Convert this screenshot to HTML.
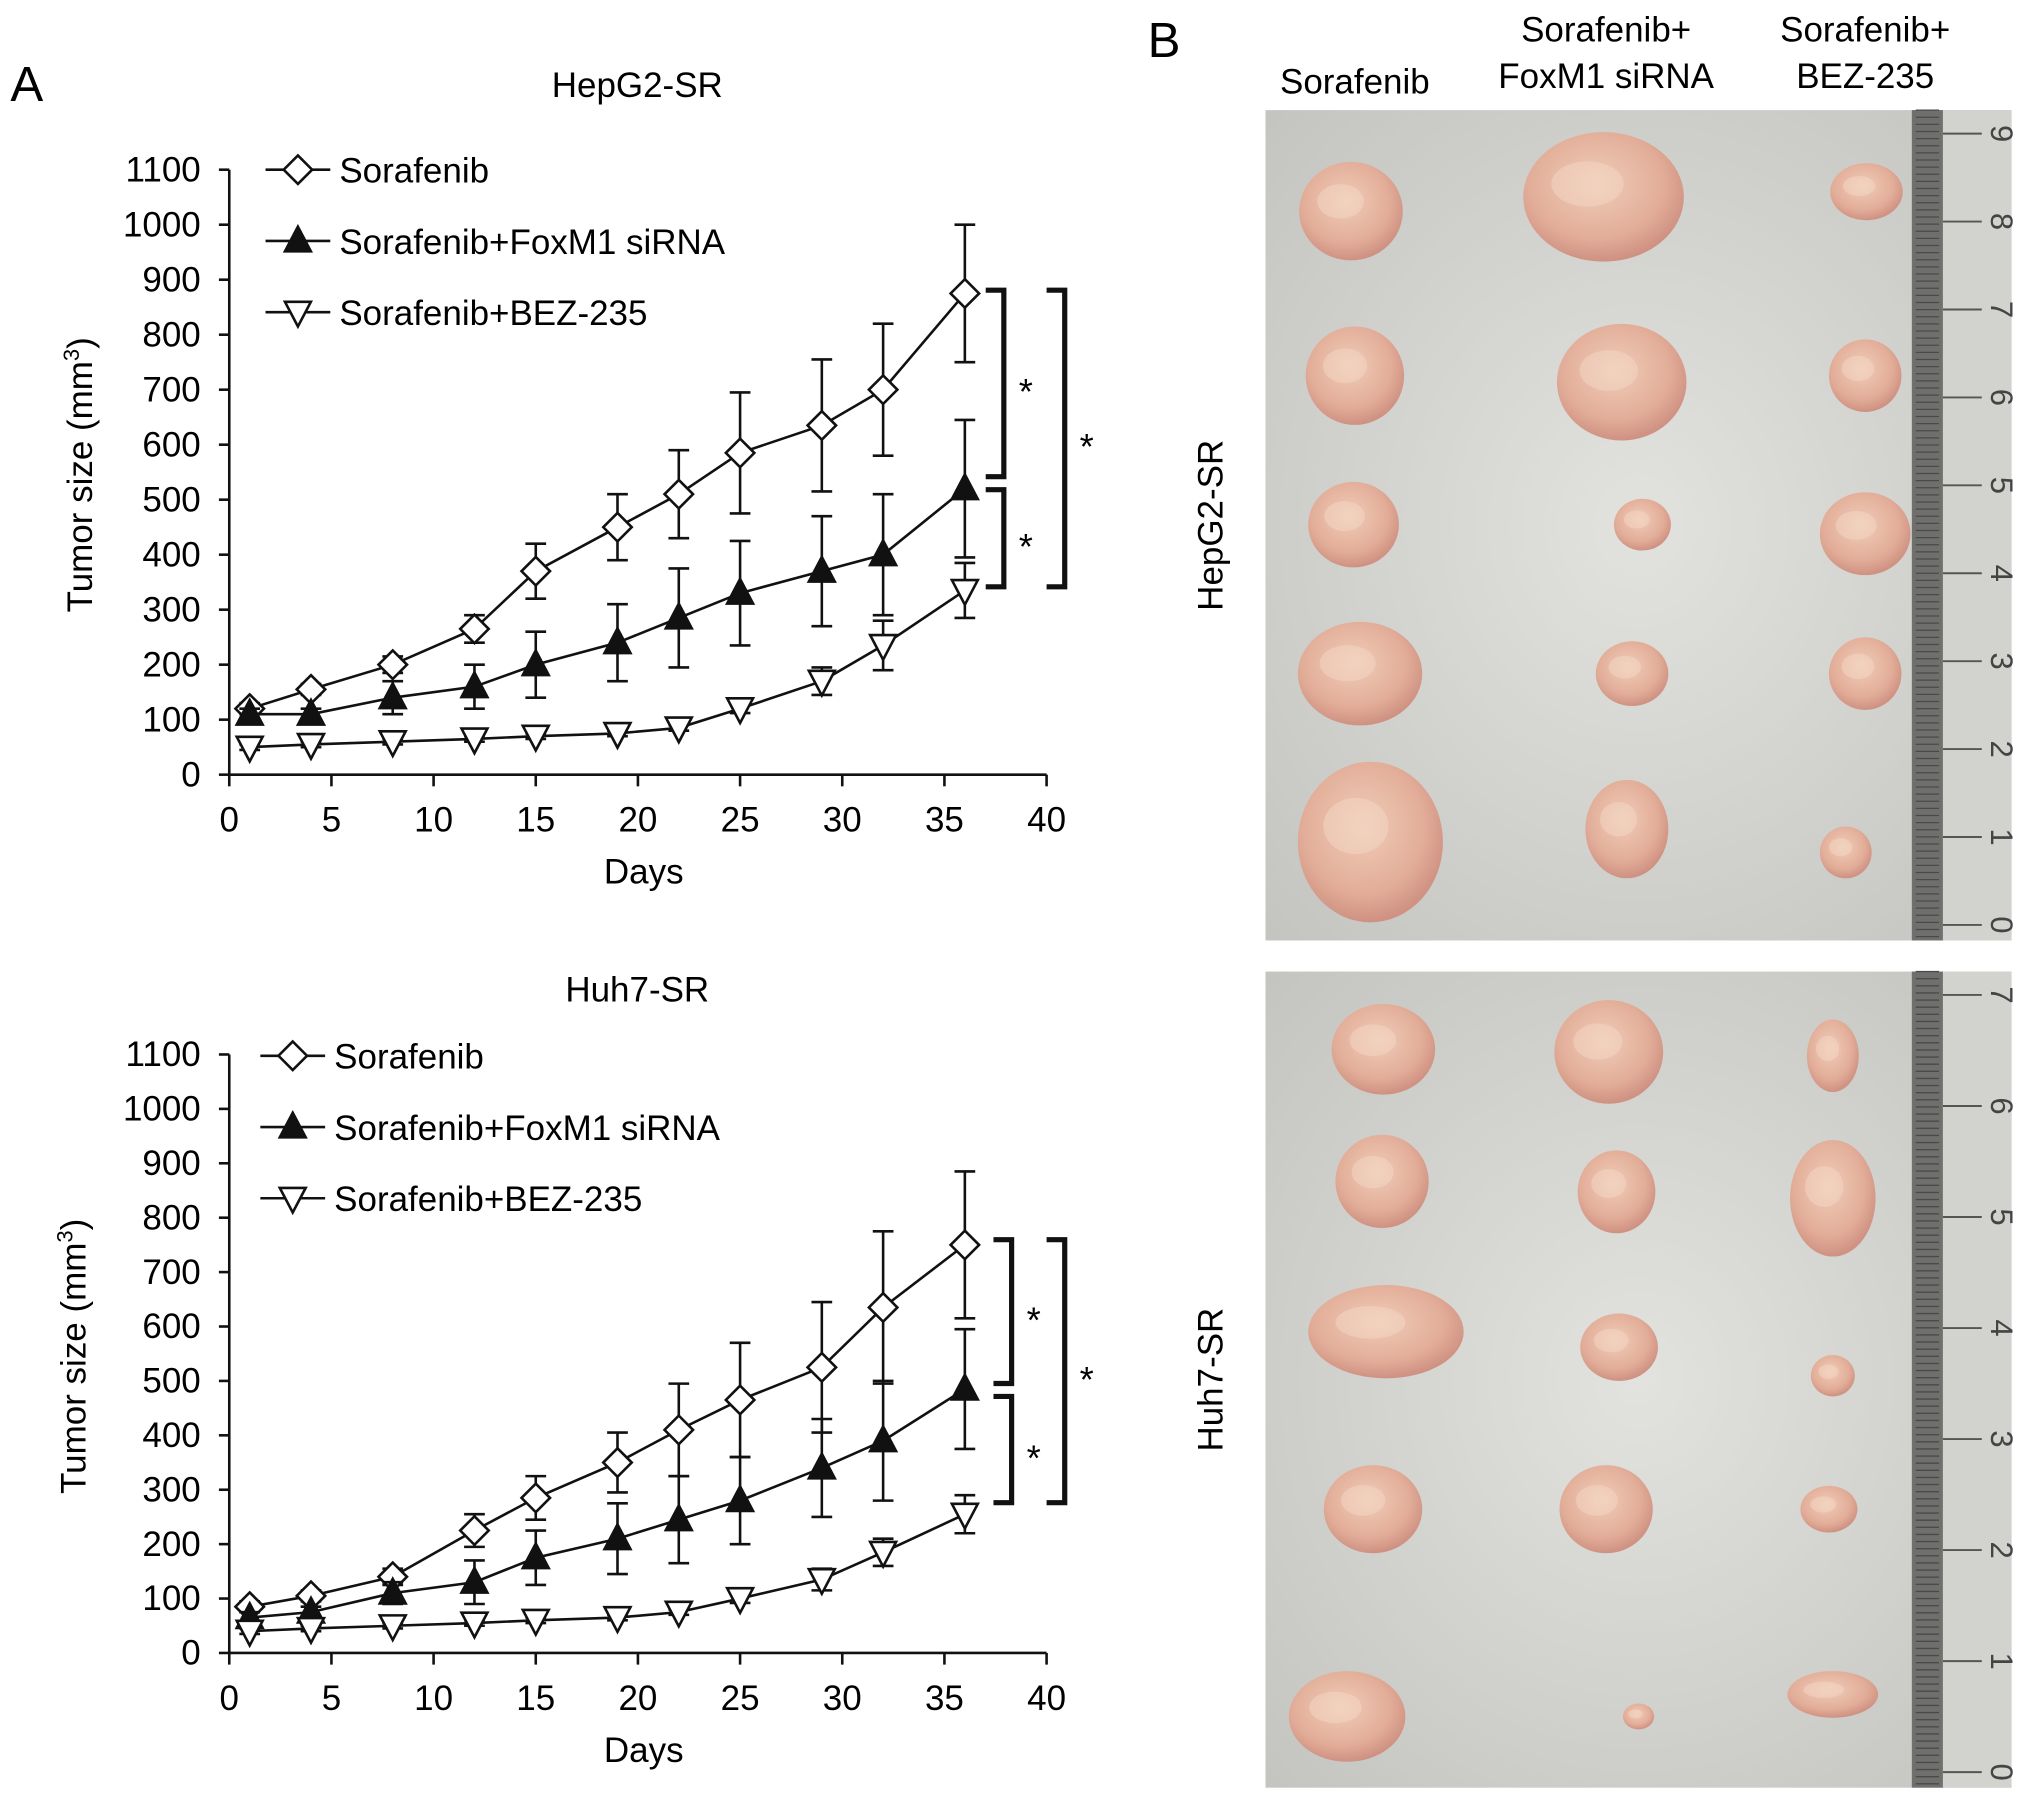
<!DOCTYPE html>
<html><head><meta charset="utf-8">
<style>
html,body{margin:0;padding:0;background:#fff;}
svg{display:block;font-family:"Liberation Sans",sans-serif;}
</style></head>
<body>
<svg id="fig" width="2031" height="1811" viewBox="0 0 1568 1398" preserveAspectRatio="none" xmlns="http://www.w3.org/2000/svg">
<defs>
<radialGradient id="bg" cx="50%" cy="50%" r="70%"><stop offset="0" stop-color="#e2e2de"/><stop offset="1" stop-color="#c4c4c0"/></radialGradient>
<radialGradient id="tum" cx="45%" cy="40%" r="60%"><stop offset="0" stop-color="#f0cdb8"/><stop offset="0.7" stop-color="#e2ad98"/><stop offset="1" stop-color="#cf9182"/></radialGradient>
</defs>
<text x="8" y="78" font-size="38">A</text>
<text x="886" y="44" font-size="38">B</text>
<g id="charts"></g>
<g id="photos"></g>
</svg>
<script>
const days = [1,4,8,12,15,19,22,25,29,32,36];
const xTicks = [0,5,10,15,20,25,30,35,40];
const yTicks = [0,100,200,300,400,500,600,700,800,900,1000,1100];
const seriesNames = ["Sorafenib","Sorafenib+FoxM1 siRNA","Sorafenib+BEZ-235"];
const hepSor = [120,155,200,265,370,450,510,585,635,700,875];
const hepSorErr = [10,10,15,25,50,60,80,110,120,120,125];
const hepFox = [110,110,140,160,200,240,285,330,370,400,520];
const hepFoxErr = [10,10,30,40,60,70,90,95,100,110,125];
const hepBez = [50,55,60,65,70,75,85,120,170,235,335];
const hepBezErr = [5,5,5,5,5,5,5,8,25,45,50];
const huhSor = [85,105,140,225,285,350,410,465,525,635,750];
const huhSorErr = [10,10,15,30,40,55,85,105,120,140,135];
const huhFox = [65,75,110,130,175,210,245,280,340,390,485];
const huhFoxErr = [10,10,20,40,50,65,80,80,90,110,110];
const huhBez = [40,45,50,55,60,65,75,100,135,185,255];
const huhBezErr = [5,5,5,5,5,5,5,8,20,25,35];

const NS="http://www.w3.org/2000/svg";
function mk(tag,attrs,parent,text){const e=document.createElementNS(NS,tag);for(const k in attrs)e.setAttribute(k,attrs[k]);if(text!==undefined)e.textContent=text;parent.appendChild(e);return e;}

function chart(cfg){
  const root=document.getElementById('charts');
  const g=mk('g',{},root);
  
  
  const x0=177,x1=808,y0=cfg.y0,yTop=cfg.yTop;
  const X=d=>x0+(d-0)/40*(x1-x0);
  const Y=v=>y0-(v/1100)*(y0-yTop);
  const st={stroke:'#111','stroke-width':2,fill:'none'};
  const t=mk('text',{x:492,y:cfg.titleY,'font-size':27,'text-anchor':'middle'},g,cfg.title);
  
  
  const ax=mk('g',{},g);
  
  
  mk('line',Object.assign({x1:x0,y1:Y(0),x2:x0,y2:Y(1100)},st),ax);
  yTicks.forEach(v=>{
    mk('line',Object.assign({x1:x0-8,y1:Y(v),x2:x0,y2:Y(v)},st),ax);
    const tl=mk('text',{x:x0-22,y:Y(v)+9,'font-size':27,'text-anchor':'end'},ax,String(v));
    
    
  });
  const xa=mk('g',{},g);
  
  
  mk('line',Object.assign({x1:x0,y1:y0,x2:x1,y2:y0},st),xa);
  xTicks.forEach(v=>{
    mk('line',Object.assign({x1:X(v),y1:y0,x2:X(v),y2:y0+9},st),xa);
    const tl=mk('text',{x:X(v),y:y0+44,'font-size':27,'text-anchor':'middle'},xa,String(v));
    
    
  });
  const xt=mk('text',{x:497,y:y0+84,'font-size':27,'text-anchor':'middle'},g,'Days');
  
  
  const cy=(Y(0)+Y(1100))/2+2;
  const yt=mk('text',{x:0,y:0,'font-size':27,'text-anchor':'middle',transform:`translate(${cfg.ylx},${cy}) rotate(-90)`},g);
  
  
  yt.appendChild(document.createTextNode('Tumor size (mm'));
  mk('tspan',{dy:-10,'font-size':17},yt,'3');
  mk('tspan',{dy:10},yt,')');
  const markers=['diamond','tri','itri'];
  cfg.series.forEach((s,si)=>{
    const sg=mk('g',{},g);
    
    
    s.vals.forEach((v,i)=>{
      const e=s.err[i],x=X(days[i]);
      mk('line',Object.assign({x1:x,y1:Y(v-e),x2:x,y2:Y(v+e)},st),sg);
      mk('line',Object.assign({x1:x-8,y1:Y(v+e),x2:x+8,y2:Y(v+e)},st),sg);
      mk('line',Object.assign({x1:x-8,y1:Y(v-e),x2:x+8,y2:Y(v-e)},st),sg);
    });
    mk('polyline',Object.assign({points:s.vals.map((v,i)=>X(days[i])+','+Y(v)).join(' ')},st),sg);
    s.vals.forEach((v,i)=>{
      const m=marker(sg,markers[si],X(days[i]),Y(v));
      
      
    });
  });
  seriesNames.forEach((n,i)=>{
    const ly=cfg.legY+i*55;
    const lg=mk('g',{},g);
    
    
    mk('line',Object.assign({x1:cfg.legX-35,y1:ly,x2:cfg.legX+15,y2:ly},st),lg);
    marker(lg,markers[i],cfg.legX-10,ly);
    mk('text',{x:cfg.legX+22,y:ly+10,'font-size':27},lg,n);
  });
  const bg=mk('g',{},g);
  
  
  const bs={stroke:'#111','stroke-width':4,fill:'none'};
  cfg.brackets.forEach(b=>{
    mk('polyline',Object.assign({points:`${b.x-14},${b.a} ${b.x},${b.a} ${b.x},${b.b} ${b.x-14},${b.b}`},bs),bg);
    mk('text',{x:b.x+17,y:(b.a+b.b)/2+16,'font-size':28,'text-anchor':'middle'},bg,'*');
  });
}
function marker(p,type,x,y){
  const st={stroke:'#111','stroke-width':2};
  if(type==='diamond')return mk('polygon',Object.assign({points:`${x},${y-11} ${x+11},${y} ${x},${y+11} ${x-11},${y}`,fill:'#fff'},st),p);
  if(type==='tri')return mk('polygon',Object.assign({points:`${x},${y-11} ${x+10},${y+8} ${x-10},${y+8}`,fill:'#111'},st),p);
  return mk('polygon',Object.assign({points:`${x-10},${y-8} ${x+10},${y-8} ${x},${y+11}`,fill:'#fff'},st),p);
}
chart({name:'chart-hepg2',title:'HepG2-SR',titleY:75,y0:598,yTop:131,ylx:71,legX:240,legY:131,
  series:[{vals:hepSor,err:hepSorErr},{vals:hepFox,err:hepFoxErr},{vals:hepBez,err:hepBezErr}],
  brackets:[{x:775,a:224,b:368},{x:775,a:378,b:453},{x:822,a:224,b:453}]});
chart({name:'chart-huh7',title:'Huh7-SR',titleY:773,y0:1276,yTop:814,ylx:66,legX:236,legY:815,
  series:[{vals:huhSor,err:huhSorErr},{vals:huhFox,err:huhFoxErr},{vals:huhBez,err:huhBezErr}],
  brackets:[{x:781,a:957,b:1068},{x:781,a:1078,b:1160},{x:822,a:957,b:1160}]});

const P=document.getElementById('photos');
function photo(name,y,h,tums,rulerMax,label){
  const g=mk('g',{},P);
  
  
  mk('rect',{x:977,y:y,width:576,height:h,fill:'url(#bg)'},g);
  mk('rect',{x:1476,y:y,width:24,height:h,fill:'#6f6f6d'},g);
  mk('rect',{x:1500,y:y,width:53,height:h,fill:'#d2d2ce'},g);
  for(let k=0;k*5.5<h;k++){mk('line',{x1:1479,x2:1497,y1:y+k*5.5,y2:y+k*5.5,stroke:'#4a4a4a','stroke-width':1},g);}
  for(let k=0;k<=rulerMax;k++){
    const yy=y+h-12-k*(h-24)/rulerMax*0.99;
    mk('line',{x1:1500,x2:1530,y1:yy,y2:yy,stroke:'#555','stroke-width':1.5},g);
    mk('text',{x:0,y:0,'font-size':24,fill:'#444',transform:`translate(1537,${yy}) rotate(90)`,'text-anchor':'middle'},g,String(k));
  }
  tums.forEach(t=>{
    mk('ellipse',{cx:t[0],cy:t[1],rx:t[2],ry:t[3],fill:'url(#tum)'},g);
    mk('ellipse',{cx:t[0]-t[2]*0.2,cy:t[1]-t[3]*0.2,rx:t[2]*0.45,ry:t[3]*0.35,fill:'#f4d8c6',opacity:0.5},g);
  });
  mk('text',{x:0,y:0,'font-size':27,'text-anchor':'middle',transform:`translate(944,${y+h/2}) rotate(-90)`},g,label);
}
photo('photo-hepg2',85,641,[[1043,163,40,38],[1238,152,62,50],[1441,148,28,22],[1046,290,38,38],[1252,295,50,45],[1440,290,28,28],[1045,405,35,33],[1268,405,22,20],[1440,412,35,32],[1050,520,48,40],[1260,520,28,25],[1440,520,28,28],[1058,650,56,62],[1256,640,32,38],[1425,658,20,20]],9,'HepG2-SR');
photo('photo-huh7',750,630,[[1068,810,40,35],[1242,812,42,40],[1415,815,20,28],[1067,912,36,36],[1248,920,30,32],[1415,925,33,45],[1070,1028,60,36],[1250,1040,30,26],[1415,1062,17,16],[1060,1165,38,34],[1240,1165,36,34],[1412,1165,22,18],[1040,1325,45,35],[1265,1325,12,10],[1415,1308,35,18]],7,'Huh7-SR');
[['Sorafenib',1046,[72]],['Sorafenib+',1240,[32]],['FoxM1 siRNA',1240,[68]],['Sorafenib+',1440,[32]],['BEZ-235',1440,[68]]].forEach(c=>{
  const t=mk('text',{x:c[1],y:c[2][0],'font-size':27,'text-anchor':'middle'},P,c[0]);
  
  
});
</script>
</body></html>
